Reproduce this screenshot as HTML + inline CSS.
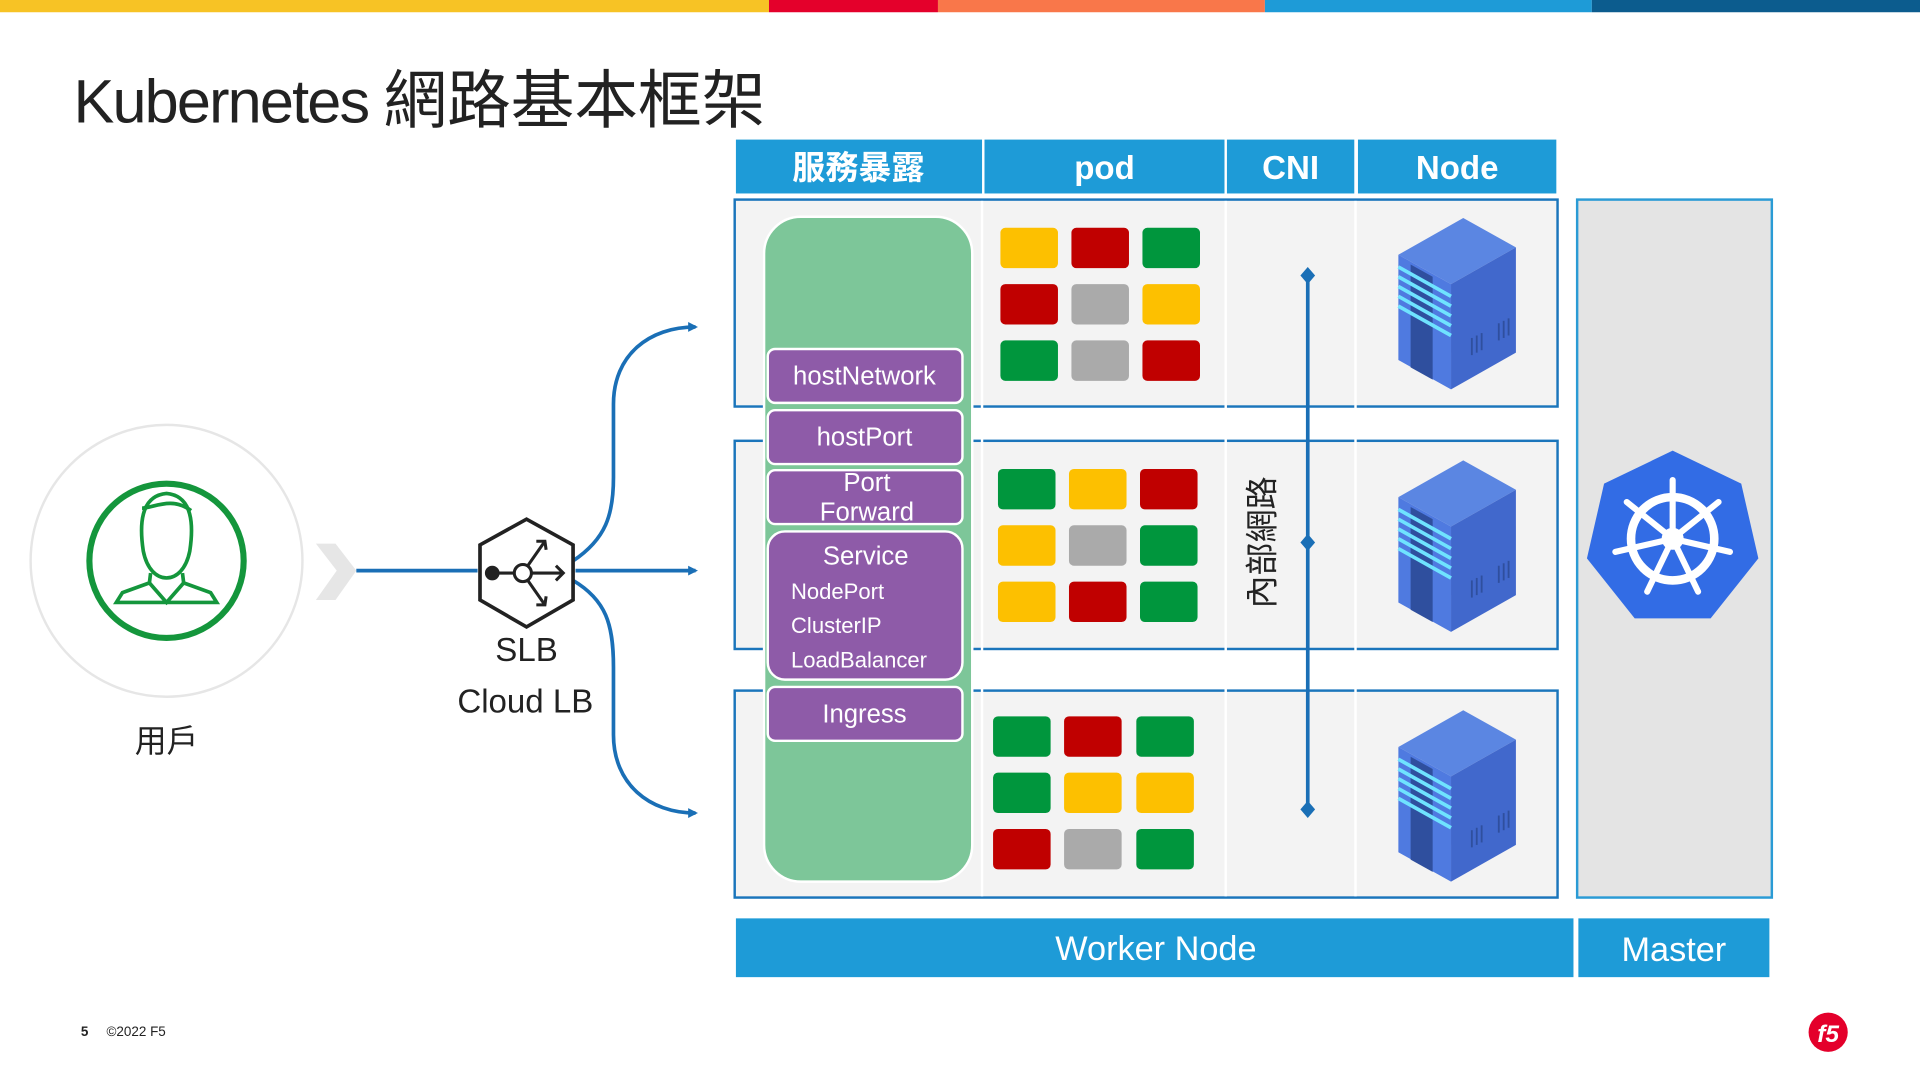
<!DOCTYPE html>
<html><head><meta charset="utf-8"><style>
html,body{margin:0;padding:0;background:#fff;width:1920px;height:1080px;overflow:hidden}
svg{display:block}
text{font-family:"Liberation Sans","Noto Sans CJK TC",sans-serif}
</style></head><body>
<svg width="1920" height="1080" viewBox="0 0 1568 882" xmlns="http://www.w3.org/2000/svg">
<defs>
<marker id="ar" markerWidth="8" markerHeight="8" refX="6" refY="4" orient="auto" markerUnits="userSpaceOnUse"><path d="M0,0 L8,4 L0,8 Z" fill="#1a6fb6"/></marker>
<g id="srv">
<polygon points="2,30 55,0 98,24 45,54" fill="#5b86e2"/>
<polygon points="2,30 45,54 45,140 2,116" fill="#4f7ae0"/>
<polygon points="45,54 98,24 98,110 45,140" fill="#4168cc"/>
<polygon points="12,38 30,48 30,132 12,122" fill="#2f4f9e"/>
<g stroke="#6fe3ff" stroke-width="3">
<line x1="2" y1="40" x2="45" y2="64"/><line x1="2" y1="48" x2="45" y2="72"/><line x1="2" y1="56" x2="45" y2="80"/><line x1="2" y1="64" x2="45" y2="88"/><line x1="2" y1="72" x2="45" y2="96"/>
</g>
<g stroke="#2f4f9e" stroke-width="1.5">
<line x1="62" y1="98" x2="62" y2="112"/><line x1="66" y1="96" x2="66" y2="110"/><line x1="70" y1="94" x2="70" y2="108"/>
<line x1="84" y1="86" x2="84" y2="100"/><line x1="88" y1="84" x2="88" y2="98"/><line x1="92" y1="82" x2="92" y2="96"/>
</g>
</g>
</defs>
<rect x="0" y="0" width="628" height="10" fill="#f7c325"/>
<rect x="628" y="0" width="138" height="10" fill="#e4002b"/>
<rect x="766" y="0" width="267" height="10" fill="#f9774a"/>
<rect x="1033" y="0" width="267" height="10" fill="#1e9bd7"/>
<rect x="1300" y="0" width="268" height="10" fill="#0c5c8e"/>
<text x="60" y="100" font-size="50" fill="#222" letter-spacing="-1.5">Kubernetes <tspan font-size="52" letter-spacing="0">網路基本框架</tspan></text>
<g fill="#1e9bd7">
<rect x="601" y="114" width="201" height="44"/><rect x="804" y="114" width="196" height="44"/>
<rect x="1002" y="114" width="104" height="44"/><rect x="1109" y="114" width="162" height="44"/>
</g>
<g fill="#fff" font-size="27" font-weight="bold" text-anchor="middle">
<text x="701" y="146">服務暴露</text><text x="902" y="146">pod</text><text x="1054" y="146">CNI</text><text x="1190" y="146">Node</text>
</g>
<g fill="#f3f3f3" stroke="#1a75bb" stroke-width="2">
<rect x="600" y="163" width="672" height="169"/><rect x="600" y="360" width="672" height="170"/><rect x="600" y="564" width="672" height="169"/>
</g>
<g stroke="#fff" stroke-width="2">
<line x1="802" y1="164" x2="802" y2="732"/><line x1="1001" y1="164" x2="1001" y2="732"/><line x1="1107" y1="164" x2="1107" y2="732"/>
</g>
<rect x="1288" y="163" width="159" height="570" fill="#e4e4e4" stroke="#2a9bd5" stroke-width="2"/>
<rect x="624" y="177" width="170" height="543" rx="30" fill="#7dc699" stroke="#fff" stroke-width="2"/>
<g fill="#8e5ba8" stroke="#fff" stroke-width="2">
<rect x="627" y="285" width="159" height="44" rx="6"/><rect x="627" y="335" width="159" height="44" rx="6"/>
<rect x="627" y="384" width="159" height="44" rx="6"/><rect x="627" y="434" width="159" height="121" rx="14"/>
<rect x="627" y="561" width="159" height="44" rx="6"/>
</g>
<g fill="#fff" font-size="21" text-anchor="middle">
<text x="706" y="314">hostNetwork</text><text x="706" y="364">hostPort</text>
<text x="708" y="401">Port</text><text x="708" y="425">Forward</text>
<text x="707" y="461">Service</text><text x="706" y="590">Ingress</text>
</g>
<g fill="#fff" font-size="18">
<text x="646" y="489">NodePort</text><text x="646" y="517">ClusterIP</text><text x="646" y="545">LoadBalancer</text>
</g>
<g>
<rect x="817" y="186" width="47" height="33" rx="4" fill="#fdc000"/><rect x="875" y="186" width="47" height="33" rx="4" fill="#c00000"/><rect x="933" y="186" width="47" height="33" rx="4" fill="#00963d"/>
<rect x="817" y="232" width="47" height="33" rx="4" fill="#c00000"/><rect x="875" y="232" width="47" height="33" rx="4" fill="#aaa"/><rect x="933" y="232" width="47" height="33" rx="4" fill="#fdc000"/>
<rect x="817" y="278" width="47" height="33" rx="4" fill="#00963d"/><rect x="875" y="278" width="47" height="33" rx="4" fill="#aaa"/><rect x="933" y="278" width="47" height="33" rx="4" fill="#c00000"/>
<rect x="815" y="383" width="47" height="33" rx="4" fill="#00963d"/><rect x="873" y="383" width="47" height="33" rx="4" fill="#fdc000"/><rect x="931" y="383" width="47" height="33" rx="4" fill="#c00000"/>
<rect x="815" y="429" width="47" height="33" rx="4" fill="#fdc000"/><rect x="873" y="429" width="47" height="33" rx="4" fill="#aaa"/><rect x="931" y="429" width="47" height="33" rx="4" fill="#00963d"/>
<rect x="815" y="475" width="47" height="33" rx="4" fill="#fdc000"/><rect x="873" y="475" width="47" height="33" rx="4" fill="#c00000"/><rect x="931" y="475" width="47" height="33" rx="4" fill="#00963d"/>
<rect x="811" y="585" width="47" height="33" rx="4" fill="#00963d"/><rect x="869" y="585" width="47" height="33" rx="4" fill="#c00000"/><rect x="928" y="585" width="47" height="33" rx="4" fill="#00963d"/>
<rect x="811" y="631" width="47" height="33" rx="4" fill="#00963d"/><rect x="869" y="631" width="47" height="33" rx="4" fill="#fdc000"/><rect x="928" y="631" width="47" height="33" rx="4" fill="#fdc000"/>
<rect x="811" y="677" width="47" height="33" rx="4" fill="#c00000"/><rect x="869" y="677" width="47" height="33" rx="4" fill="#aaa"/><rect x="928" y="677" width="47" height="33" rx="4" fill="#00963d"/>
</g>
<line x1="1068" y1="225" x2="1068" y2="661" stroke="#1a6fb6" stroke-width="3"/>
<g fill="#1a6fb6">
<polygon points="1068,218 1074,225 1068,232 1062,225"/><polygon points="1068,436 1074,443 1068,450 1062,443"/><polygon points="1068,654 1074,661 1068,668 1062,661"/>
</g>
<text transform="translate(1040,443) rotate(-90)" font-size="27" text-anchor="middle" fill="#222">內部網路</text>
<use href="#srv" x="1140" y="178"/><use href="#srv" x="1140" y="376"/><use href="#srv" x="1140" y="580"/>
<g transform="translate(1366,440)">
<polygon points="0,-72 56,-45 70,16 31,65 -31,65 -70,16 -56,-45" fill="#326ce5"/>
<circle r="34" fill="none" stroke="#fff" stroke-width="7"/>
<circle r="9" fill="#fff"/>
<g stroke="#fff" stroke-width="5" stroke-linecap="round">
<line x1="0" y1="0" x2="0" y2="-48"/><line x1="0" y1="0" x2="37.5" y2="-30"/><line x1="0" y1="0" x2="46.8" y2="10.7"/><line x1="0" y1="0" x2="20.8" y2="43.2"/><line x1="0" y1="0" x2="-20.8" y2="43.2"/><line x1="0" y1="0" x2="-46.8" y2="10.7"/><line x1="0" y1="0" x2="-37.5" y2="-30"/>
</g>
</g>
<rect x="601" y="750" width="684" height="48" fill="#1e9bd7"/>
<rect x="1289" y="750" width="156" height="48" fill="#1e9bd7"/>
<text x="944" y="784" font-size="28" fill="#fff" text-anchor="middle">Worker Node</text>
<text x="1367" y="785" font-size="28" fill="#fff" text-anchor="middle">Master</text>
<circle cx="136" cy="458" r="111" fill="#fff" stroke="#e6e6e6" stroke-width="2"/>
<circle cx="136" cy="458" r="63" fill="none" stroke="#14963c" stroke-width="5"/>
<g fill="none" stroke="#14963c" stroke-width="3">
<path d="M117,450 C114,430 114,405 136,403 C158,405 158,430 155,450 C152,465 144,472 136,472 C128,472 120,465 117,450 Z"/>
<path d="M116,415 C125,415 140,405 156,417"/>
<path d="M123,468 L122,476 L100,484 L95,492 L177,492 L172,484 L150,476 L149,468"/>
<path d="M122,476 L136,492 L150,476"/>
</g>
<text x="136" y="614" font-size="26" text-anchor="middle" fill="#222">用戶</text>
<polygon points="258,444 274,444 291,466 274,490 258,490 275,466" fill="#e6e6e6"/>
<g fill="none" stroke="#1a6fb6" stroke-width="3">
<line x1="291" y1="466" x2="390" y2="466"/>
<line x1="470" y1="466" x2="568" y2="466" marker-end="url(#ar)"/>
<path d="M468,458 C495,440 501,420 501,390 L501,330 C501,290 530,267 568,267" marker-end="url(#ar)"/>
<path d="M468,474 C495,490 501,510 501,545 L501,600 C501,640 530,664 568,664" marker-end="url(#ar)"/>
</g>
<polygon points="430,424 468,445 468,490 430,512 392,490 392,445" fill="#fff" stroke="#222" stroke-width="3"/>
<g stroke="#222" stroke-width="2.5" fill="none">
<line x1="403" y1="468" x2="420" y2="468"/><circle cx="427" cy="468" r="7" fill="#fff"/>
<line x1="434" y1="468" x2="460" y2="468"/><path d="M454,462 L460,468 L454,474"/>
<line x1="431" y1="462" x2="445" y2="442"/><path d="M438,442 L445,442 L446,449"/>
<line x1="431" y1="474" x2="445" y2="494"/><path d="M438,494 L445,494 L446,487"/>
</g>
<circle cx="402" cy="468" r="6" fill="#222"/>
<text x="430" y="540" font-size="27" text-anchor="middle" fill="#222">SLB</text>
<text x="429" y="582" font-size="27" text-anchor="middle" fill="#222">Cloud LB</text>
<text x="66" y="846" font-size="11" font-weight="bold" fill="#222">5</text>
<text x="87" y="846" font-size="11" fill="#222">©2022 F5</text>
<circle cx="1493" cy="843" r="16" fill="#e4002b"/>
<text x="1493" y="851" font-size="20" font-weight="bold" fill="#fff" text-anchor="middle" font-style="italic">f5</text>
</svg>
</body></html>
